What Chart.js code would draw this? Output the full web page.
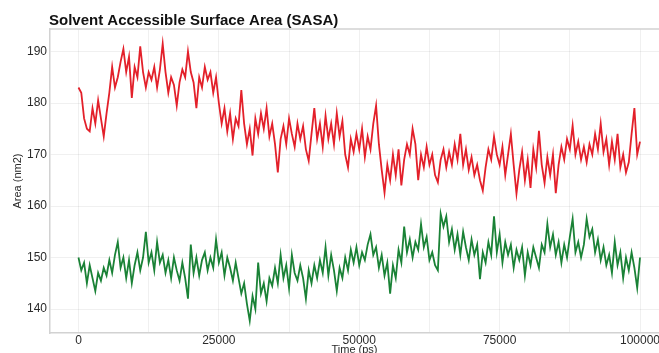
<!DOCTYPE html>
<html lang="en">
  <head>
    <meta charset="UTF-8" />
    <title>SASA</title>
    <script src="https://cdn.jsdelivr.net/npm/chart.js@4.4.0/dist/chart.umd.min.js"></script>
    <style>
      body { margin: 0; background: #fff; }
      canvas { display: block; }
    </style>
  </head>
  <body>
    <canvas id="sasaChart" width="659" height="353"></canvas>

    <script>
      const titleText = 'Solvent Accessible Surface Area (SASA)';
      const timeStep = 500; // ps between samples

      // tick positions + labels (x has minor grid lines every 12500)
      const xTickValues = [0, 12500, 25000, 37500, 50000, 62500, 75000, 87500, 100000];
      const xTickLabels = ['0', '', '25000', '', '50000', '', '75000', '', '100000'];
      const yTickValues = [140, 150, 160, 170, 180, 190];
      const yTickLabels = ['140', '150', '160', '170', '180', '190'];

      // red trace, every 500 ps
      const redSasa = [
        183, 182, 177, 175, 174.5, 179, 176, 180.5, 177, 173.5,
        178, 182, 187, 183, 185, 188, 190.5, 186, 189, 181,
        187, 185, 191, 186, 183, 186, 184.5, 187, 183, 186.5,
        191.5, 186, 182, 185, 183.5, 179.5, 184, 186.5, 185, 190,
        186, 184, 179, 185, 183, 187, 184.5, 186, 182, 185,
        180, 176, 179, 174.5, 178, 173, 177, 175.5, 182.5, 176,
        172, 175, 169.8, 177, 174, 178, 175, 179, 173.5, 176,
        172, 166.5, 173, 175.5, 172, 177, 174, 171.5, 176, 173,
        175.5, 171, 168.8, 174, 179, 173, 176, 171.5, 177.5, 173,
        176, 172, 178, 173.5, 176.5, 170, 167.5, 173, 170.5, 174,
        171, 175, 169.5, 173.5, 171, 176, 179.5, 172, 167, 162.6,
        168, 165, 170, 166, 171, 164, 169, 172, 170, 175,
        172, 165, 170, 167.5, 171.5, 168, 170, 166, 164.6, 169,
        171, 167.5, 170.5, 168, 172, 169, 174, 168, 171, 167,
        169.5, 166, 168, 165, 163, 167.5, 171, 169, 173.5, 170,
        168, 171.5, 166, 170, 174, 168, 162.4, 167, 170.5, 165,
        169, 163.5, 171, 167.5, 174.6, 168, 164.5, 169.5, 166, 170,
        162.5, 168, 171.5, 169, 173, 171, 175.6, 170, 172.5, 169,
        171.5, 168.5, 172, 170, 174, 171, 176, 170.5, 173, 168,
        172.5, 169, 174, 167.5, 170, 166.5, 168.5, 174, 179, 170, 172.5
      ];

      // green trace
      const greenSasa = [
        150, 147.5, 149, 145, 148.5, 146, 143.5, 147, 145.5, 148,
        146.5, 149.5, 147, 150.5, 153, 148, 150, 146, 149.5, 145,
        148.5, 151, 147.5, 150, 155, 149, 151, 147.5, 153, 149,
        150.5, 147, 149.5, 146, 150, 147.5, 145.5, 149, 146, 142,
        152.5, 147, 150, 146.5, 149.5, 151, 147.5, 150, 148, 153.5,
        149, 151, 146.5, 150, 148, 145.5, 149, 146, 143, 145,
        141, 137.7, 142.5, 140, 149, 143, 145, 141.5, 146, 144.5,
        148, 145, 150.5, 146, 148.5, 144, 150.5, 147, 145.5, 148.5,
        146, 142, 147.5, 145, 148.5, 146, 149.5, 147, 152, 146.5,
        150.5, 147.5, 143.5, 148, 146, 150, 147.5, 151.5, 149, 152,
        148.5, 151, 149.5, 152.5, 154.5, 150.5, 152, 148, 150.5, 146.5,
        149, 143, 148.5, 146, 151.5, 149, 156, 151, 153.5, 150,
        153, 151.5, 156.5, 152, 154, 149.5, 151, 148.5, 147.5, 158.5,
        156, 158, 153, 155.5, 151.5, 154.5, 150.5, 155, 152, 149.5,
        153.5, 150.5, 152.5, 145.8, 151, 149, 153, 150.5, 158, 151,
        154.5, 149, 153, 150.5, 152.5, 148, 151.5, 149.5, 152, 146.5,
        151, 148.5, 152, 150, 148, 152.5, 151, 156.5, 152, 154.5,
        150.5, 153, 149, 152.5, 150, 154, 157.5, 151, 153, 150,
        152.5, 157.5, 154, 155.5, 151, 153.5, 149.5, 152, 148.5, 150.5,
        147, 153, 148.5, 151, 146, 150, 147.5, 151, 148, 144.1, 150
      ];

      const toPoints = arr => arr.map((v, i) => ({ x: i * timeStep, y: v }));

      // title + top frame line are drawn by hand
      const framePlugin = {
        id: 'frame',
        afterDraw(chart) {
          const { ctx, chartArea } = chart;
          ctx.save();
          ctx.strokeStyle = '#d2d2d2';
          ctx.lineWidth = 1.5;
          ctx.beginPath();
          ctx.moveTo(chartArea.left, chartArea.top);
          ctx.lineTo(chartArea.right, chartArea.top);
          ctx.stroke();
          ctx.font = 'bold 15px "Liberation Sans", Arial, sans-serif';
          ctx.fillStyle = '#111';
          ctx.textBaseline = 'middle';
          ctx.textAlign = 'left';
          ctx.fillText(titleText, 49, 21);
          ctx.restore();
        }
      };

      Chart.defaults.font.family = '"Liberation Sans", Arial, sans-serif';
      Chart.defaults.color = '#2a2a2a';

      const ctx = document.getElementById('sasaChart').getContext('2d');
      const sasaChart = new Chart(ctx, {
        type: 'line',
        data: {
          datasets: [
            {
              label: 'red',
              data: toPoints(redSasa),
              borderColor: '#e3202a',
              borderWidth: 1.8,
              pointRadius: 0,
              fill: false
            },
            {
              label: 'green',
              data: toPoints(greenSasa),
              borderColor: '#1a8236',
              borderWidth: 1.8,
              pointRadius: 0,
              fill: false
            }
          ]
        },
        options: {
          responsive: false,
          animation: false,
          layout: { padding: { top: 29, left: 0, right: 0, bottom: 0 } },
          plugins: {
            legend: { display: false },
            tooltip: { enabled: false }
          },
          scales: {
            x: {
              type: 'linear',
              min: -5070,
              max: 103380,
              afterBuildTicks: axis => { axis.ticks = xTickValues.map(v => ({ value: v })); },
              afterFit: axis => { axis.height = 20; axis.paddingLeft = 0; axis.paddingRight = 0; },
              ticks: {
                autoSkip: false,
                maxRotation: 0,
                padding: 0,
                font: { size: 12 },
                callback: (value, index) => xTickLabels[index]
              },
              grid: { color: 'rgba(0,0,0,0.06)', drawTicks: false },
              border: { display: true, color: '#d2d2d2', width: 1.5 },
              title: {
                display: true,
                text: 'Time (ps)',
                font: { size: 11, lineHeight: 0.6 },
                padding: 0
              }
            },
            y: {
              min: 135.34,
              max: 194.37,
              afterBuildTicks: axis => { axis.ticks = yTickValues.map(v => ({ value: v })); },
              afterFit: axis => { axis.width = 50; },
              ticks: {
                padding: 3,
                font: { size: 12 },
                callback: (value, index) => yTickLabels[index]
              },
              grid: { color: 'rgba(0,0,0,0.06)', drawTicks: false },
              border: { display: true, color: '#d2d2d2', width: 1.5 },
              title: {
                display: true,
                text: 'Area (nm2)',
                font: { size: 11 },
                padding: { top: 11, bottom: 0 }
              }
            }
          }
        },
        plugins: [framePlugin]
      });
    </script>
  </body>
</html>
